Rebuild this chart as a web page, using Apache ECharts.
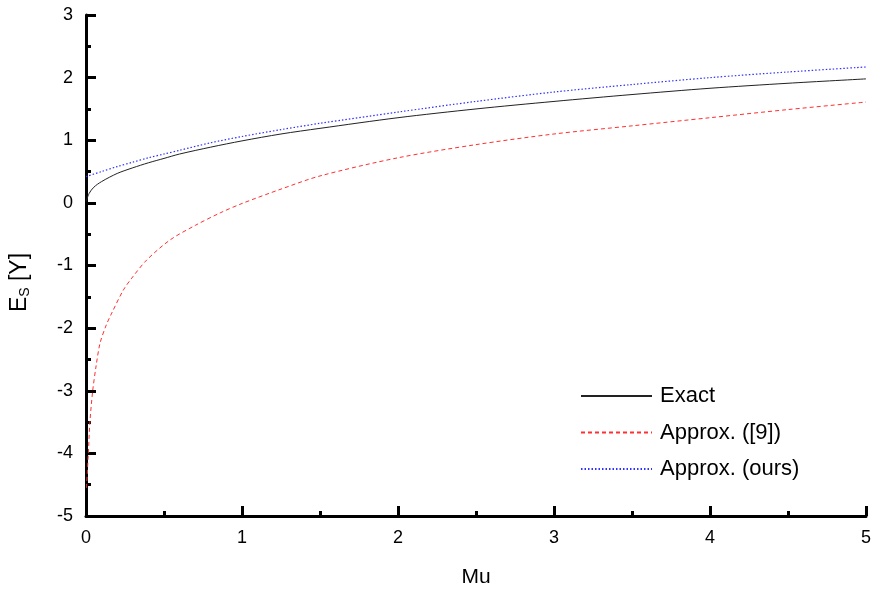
<!DOCTYPE html>
<html>
<head>
<meta charset="utf-8">
<script src="https://cdn.jsdelivr.net/npm/echarts@6/dist/echarts.min.js"></script>
<style>
html,body{margin:0;padding:0;background:#fff;}
#chart{width:876px;height:592px;}
</style>
</head>
<body>
<div id="chart"></div>
<script>
// Exact
var exactX = [0, 0.02, 0.05, 0.1, 0.2, 0.3, 0.4, 0.5, 0.6, 0.8, 1.0, 1.25, 1.5, 2, 2.5, 3, 3.5, 4, 4.5, 5];
var exactY = [0.02, 0.15, 0.25, 0.34, 0.47, 0.56, 0.64, 0.71, 0.78, 0.89, 0.99, 1.10, 1.19, 1.36, 1.50, 1.62, 1.73, 1.83, 1.91, 1.98];
// Approx. ([9])
var refX = [0.003, 0.015, 0.025, 0.043, 0.065, 0.09, 0.13, 0.165, 0.24, 0.3, 0.39, 0.54, 0.7, 0.86, 1.0, 1.25, 1.5, 2, 2.5, 3, 3.5, 4, 4.5, 5];
var refY = [-4.55, -4.0, -3.5, -3.0, -2.6, -2.24, -1.95, -1.76, -1.39, -1.18, -0.91, -0.59, -0.36, -0.16, -0.01, 0.22, 0.43, 0.72, 0.93, 1.10, 1.23, 1.36, 1.49, 1.61];
// Approx. (ours)
var oursX = [0, 0.1, 0.2, 0.3, 0.4, 0.5, 0.6, 0.8, 1.0, 1.25, 1.5, 2, 2.5, 3, 3.5, 4, 4.5, 5];
var oursY = [0.42, 0.50, 0.58, 0.65, 0.72, 0.78, 0.84, 0.96, 1.06, 1.17, 1.27, 1.45, 1.62, 1.77, 1.89, 2.00, 2.09, 2.17];

var seriesNames = ['Exact', 'Approx. ([9])', 'Approx. (ours)'];
var xTicks = [0, 1, 2, 3, 4, 5];
var yTicks = [-5, -4, -3, -2, -1, 0, 1, 2, 3];

function pairs(xs, ys) { return xs.map(function (x, i) { return [x, ys[i]]; }); }

var FONT = '"Liberation Sans", Arial, Helvetica, sans-serif';
var chart = echarts.init(document.getElementById('chart'), null, {renderer: 'canvas'});
chart.setOption({
  backgroundColor: '#ffffff',
  animation: false,
  textStyle: {fontFamily: FONT, color: '#000'},
  grid: {left: 86, right: 10, top: 15, bottom: 76, containLabel: false, outerBoundsMode: 'none'},
  legend: {
    orient: 'vertical', left: 580, top: 385, padding: 0, itemWidth: 71, itemHeight: 14, itemGap: 14.5,
    itemStyle: {opacity: 0},
    textStyle: {fontFamily: FONT, fontSize: 22, color: '#000', padding: [0, 0, 0, 3]},
    data: seriesNames
  },
  xAxis: {
    type: 'value', min: xTicks[0], max: xTicks[xTicks.length - 1], interval: 1,
    name: 'Mu', nameLocation: 'middle', nameGap: 51,
    nameTextStyle: {fontFamily: FONT, fontSize: 21, color: '#000'},
    axisLine: {show: true, onZero: false, lineStyle: {color: '#000', width: 3}},
    axisTick: {show: true, inside: true, length: 10, lineStyle: {color: '#000', width: 3}},
    minorTick: {show: true, splitNumber: 2, length: 5, lineStyle: {color: '#000', width: 3}},
    axisLabel: {fontFamily: FONT, fontSize: 18, color: '#000', margin: 13},
    splitLine: {show: false}
  },
  yAxis: {
    type: 'value', min: yTicks[0], max: yTicks[yTicks.length - 1], interval: 1,
    name: '{e|E}{s|S}{r| [Y]}', nameLocation: 'middle', nameGap: 51, nameRotate: 90,
    nameTextStyle: {
      fontFamily: FONT, fontSize: 22, color: '#000', padding: [0, 34, 0, 0],
      rich: {
        e: {fontFamily: FONT, fontSize: 23, color: '#000', lineHeight: 30},
        s: {fontFamily: FONT, fontSize: 14, color: '#000', lineHeight: 30, padding: [10, 0, 0, 0]},
        r: {fontFamily: FONT, fontSize: 23, color: '#000', lineHeight: 30}
      }
    },
    axisLine: {show: true, onZero: false, lineStyle: {color: '#000', width: 3}},
    axisTick: {show: true, inside: true, length: 10, lineStyle: {color: '#000', width: 3}},
    minorTick: {show: true, splitNumber: 2, length: 5, lineStyle: {color: '#000', width: 3}},
    axisLabel: {fontFamily: FONT, fontSize: 18, color: '#000', margin: 13},
    splitLine: {show: false}
  },
  series: [
    {name: seriesNames[0], type: 'line', data: pairs(exactX, exactY), symbol: 'none', smooth: 0.3,
     lineStyle: {color: '#222', width: 1, type: 'solid'}, itemStyle: {color: '#222'}, z: 3},
    {name: seriesNames[1], type: 'line', data: pairs(refX, refY), symbol: 'none', smooth: 0.3,
     lineStyle: {color: '#ff3030', width: 1, type: [4, 3]}, itemStyle: {color: '#ff3030'}, z: 2},
    {name: seriesNames[2], type: 'line', data: pairs(oursX, oursY), symbol: 'none', smooth: 0.3,
     lineStyle: {color: '#3030ff', width: 1.2, type: [1.5, 2]}, itemStyle: {color: '#3030ff'}, z: 2}
  ]
});
</script>
</body>
</html>
